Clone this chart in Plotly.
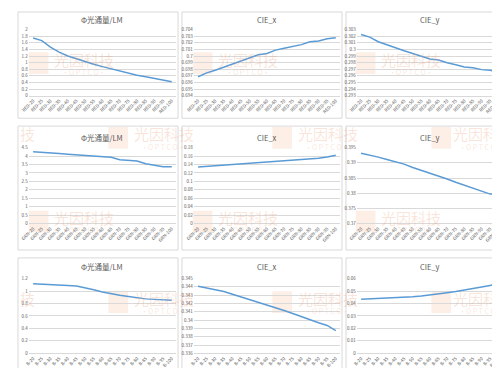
import plotly.graph_objects as go

# ---------------- data ----------------
cats_r1 = ["RED-20", "RED-25", "RED-30", "RED-35", "RED-40", "RED-45", "RED-50", "RED-55", "RED-60",
           "RED-65", "RED-70", "RED-75", "RED-80", "RED-85", "RED-90", "RED-95", "RED-100"]
cats_r2 = ["GRN-20", "GRN-25", "GRN-30", "GRN-35", "GRN-40", "GRN-45", "GRN-50", "GRN-55", "GRN-60",
           "GRN-65", "GRN-70", "GRN-75", "GRN-80", "GRN-85", "GRN-90", "GRN-95", "GRN-100"]
cats_r3 = ["B-20", "B-25", "B-30", "B-35", "B-40", "B-45", "B-50", "B-55", "B-60",
           "B-65", "B-70", "B-75", "B-80", "B-85", "B-90", "B-95", "B-100"]

flux_r1 = [1.75, 1.67, 1.47, 1.32, 1.20, 1.11, 1.02, 0.95, 0.88, 0.81, 0.74, 0.68, 0.62, 0.57, 0.52, 0.47, 0.42]
cie_x_r1 = [0.69686, 0.69745, 0.69784, 0.69833, 0.69883, 0.69922, 0.69981, 0.70021, 0.7004,
            0.7009, 0.70119, 0.70144, 0.70173, 0.70218, 0.70228, 0.70262, 0.70277]
cie_y_r1 = [0.30226, 0.30187, 0.30118, 0.30068, 0.30029, 0.2998, 0.2994, 0.2990, 0.29856,
            0.2984, 0.29798, 0.29768, 0.29733, 0.29724, 0.29694, 0.29684, 0.2966]

flux_r2 = [4.26, 4.24, 4.20, 4.16, 4.12, 4.08, 4.06, 4.02, 3.98, 3.93, 3.79, 3.75, 3.71, 3.55, 3.45, 3.37, 3.37]
cie_x_r2 = [0.134, 0.1355, 0.137, 0.1385, 0.1395, 0.141, 0.1425, 0.144, 0.1455, 0.147, 0.1485,
            0.150, 0.1515, 0.153, 0.155, 0.158, 0.162]
cie_y_r2 = [0.3932, 0.3926, 0.3919, 0.3911, 0.3904, 0.3896, 0.3885, 0.3876, 0.3866, 0.3857,
            0.3847, 0.3836, 0.3826, 0.3816, 0.3806, 0.3797, 0.3797]

flux_r3 = [1.116, 1.111, 1.105, 1.10, 1.089, 1.079, 1.053, 1.021, 0.984, 0.953, 0.932, 0.911,
           0.889, 0.874, 0.866, 0.858, 0.853]
cie_x_r3 = [0.34408, 0.34388, 0.34368, 0.34344, 0.34312, 0.3428, 0.34248, 0.34216, 0.34184,
            0.34156, 0.34116, 0.3408, 0.3404, 0.340, 0.33968, 0.33936, 0.33872]
cie_y_r3 = [0.0434, 0.0437, 0.0439, 0.0442, 0.0447, 0.045, 0.0455, 0.0461, 0.0468, 0.0476,
            0.0487, 0.0497, 0.0508, 0.0518, 0.0532, 0.0545, 0.0558]

titles = ["Φ光通量/LM", "CIE_x", "CIE_y"]

# (categories, values, y-range, dtick) per panel, row-major
panels = [
    (cats_r1, flux_r1, [0, 2], 0.2),
    (cats_r1, cie_x_r1, [0.694, 0.704], 0.001),
    (cats_r1, cie_y_r1, [0.293, 0.303], 0.001),
    (cats_r2, flux_r2, [0, 4.5], 0.5),
    (cats_r2, cie_x_r2, [0, 0.18], 0.02),
    (cats_r2, cie_y_r2, [0.37, 0.395], 0.005),
    (cats_r3, flux_r3, [0, 1.2], 0.2),
    (cats_r3, cie_x_r3, [0.336, 0.345], 0.001),
    (cats_r3, cie_y_r3, [0, 0.06], 0.01),
]

# ---------------- layout geometry (pixels) ----------------
W, H = 500, 368
col_plot_x = [(12, 162), (180, 329), (346, 495)]
row_plot_y = [(19, 86), (139, 216), (272, 348)]
row_title_y = [9, 129, 260]
col_box_x = [(1, 164), (168, 331), (335, 498)]
row_box_y = [(1, 109), (117, 243), (251, 367)]

def px(x):
    return x / W

def py(y):
    return 1 - y / H

fig = go.Figure()
layout = dict(
    width=W, height=H,
    margin=dict(l=0, r=0, t=0, b=0),
    paper_bgcolor="white", plot_bgcolor="white",
    showlegend=False,
    font=dict(family="Noto Sans CJK SC, Noto Sans, sans-serif", color="#595959"),
)
shapes = []
annotations = []

LINE_COLOR = "#5b9bd5"
GRID = "#d9d9d9"
WM = "rgba(238,150,110,0.26)"

# watermark (drawn first so it sits beneath other annotations)
def wm_tile(wx, wy, text="光因科技", sub="·O P T C O·", icon=True):
    if icon:
        shapes.append(dict(type="rect", xref="paper", yref="paper",
                           x0=px(wx), x1=px(wx + 20), y0=py(wy + 12), y1=py(wy - 10),
                           line=dict(width=0), fillcolor="rgba(240,140,90,0.15)", layer="below"))
    annotations.append(dict(text=text, x=px(wx + 24), y=py(wy - 3), xref="paper", yref="paper",
                            showarrow=False, xanchor="left", yanchor="middle",
                            font=dict(size=15, color=WM)))
    if sub:
        annotations.append(dict(text=sub, x=px(wx + 56), y=py(wy + 10), xref="paper",
                                yref="paper", showarrow=False, xanchor="center", yanchor="middle",
                                font=dict(size=7, color=WM)))

for xs in (12, 179, 345):
    wm_tile(xs, 52)
    wm_tile(xs, 213)
for xs in (93, 260):
    wm_tile(xs, 128)
    wm_tile(xs, 295)
for wy in (128, 295):
    # partial tiles at the picture edges
    annotations.append(dict(text="技", x=px(1), y=py(wy - 3), xref="paper", yref="paper",
                            showarrow=False, xanchor="left", yanchor="middle",
                            font=dict(size=15, color=WM)))
    shapes.append(dict(type="rect", xref="paper", yref="paper",
                       x0=px(422), x1=px(442), y0=py(wy + 12), y1=py(wy - 10),
                       line=dict(width=0), fillcolor="rgba(240,140,90,0.15)", layer="below"))
    annotations.append(dict(text="光因科", x=px(492), y=py(wy - 3), xref="paper", yref="paper",
                            showarrow=False, xanchor="right", yanchor="middle",
                            font=dict(size=15, color=WM)))
    annotations.append(dict(text="·O P T C O", x=px(490), y=py(wy + 10), xref="paper",
                            yref="paper", showarrow=False, xanchor="right", yanchor="middle",
                            font=dict(size=7, color=WM)))

for i, (cats, vals, yr, dt) in enumerate(panels):
    r, c = divmod(i, 3)
    n = i + 1
    xa = "x" if n == 1 else f"x{n}"
    ya = "y" if n == 1 else f"y{n}"
    fig.add_trace(go.Scatter(x=cats, y=vals, mode="lines", xaxis=xa, yaxis=ya,
                             line=dict(color=LINE_COLOR, width=1.5), hoverinfo="skip"))
    xkey = "xaxis" if n == 1 else f"xaxis{n}"
    ykey = "yaxis" if n == 1 else f"yaxis{n}"
    x0, x1 = col_plot_x[c]
    y0, y1 = row_plot_y[r]
    layout[xkey] = dict(domain=[px(x0), px(x1)], anchor=ya, type="category",
                        range=[-0.5, len(cats) - 0.5], showgrid=False, zeroline=False,
                        showline=True, linecolor=GRID, linewidth=1, ticks="",
                        tickangle=-45, tickfont=dict(size=4.5, color="#595959"))
    layout[ykey] = dict(domain=[py(y1), py(y0)], anchor=xa, range=yr, tick0=yr[0], dtick=dt,
                        showgrid=True, gridcolor=GRID, gridwidth=0.7, zeroline=False,
                        showline=False, ticks="", tickfont=dict(size=4.5, color="#595959"))
    annotations.append(dict(text=titles[c], x=px((x0 + x1) / 2), y=py(row_title_y[r]),
                            xref="paper", yref="paper", showarrow=False,
                            font=dict(size=7.5, color="#595959"),
                            xanchor="center", yanchor="middle"))

# chart boxes
for r in range(3):
    for c in range(3):
        bx0, bx1 = col_box_x[c]
        by0, by1 = row_box_y[r]
        shapes.append(dict(type="rect", xref="paper", yref="paper",
                           x0=px(bx0), x1=px(bx1), y0=py(by1), y1=py(by0),
                           line=dict(color=GRID, width=1), fillcolor="rgba(0,0,0,0)",
                           layer="below"))

layout["shapes"] = shapes
layout["annotations"] = annotations
fig.update_layout(**layout)
fig.write_html("out.html")
